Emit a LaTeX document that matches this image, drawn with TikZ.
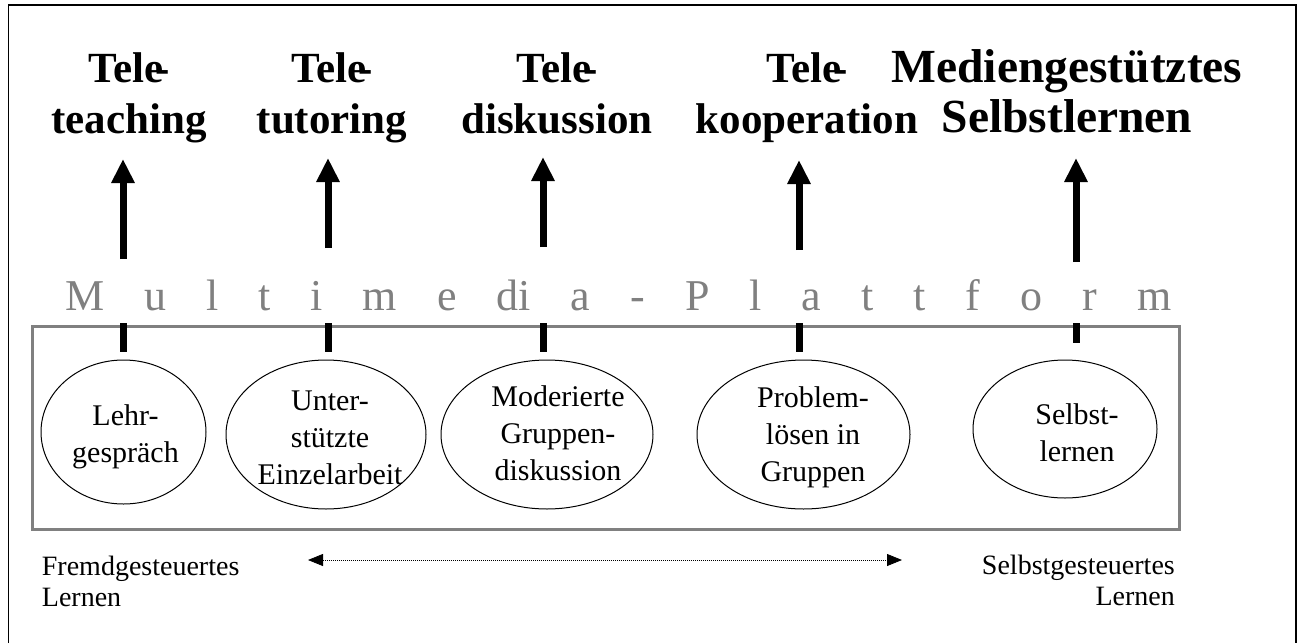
\documentclass[tikz,border=0pt]{standalone}
\usepackage{fontspec}
\setmainfont{Liberation Serif}
\usetikzlibrary{arrows.meta,shapes.geometric}
\definecolor{platformgray}{RGB}{128,128,128}
\newcommand{\tele}{Tele\kern-8pt-}
\begin{document}
\begin{tikzpicture}[x=1pt,y=-1pt,
  frame/.style={draw=black,line width=1.8pt},
  platformbox/.style={draw=platformgray,line width=3pt,inner sep=0pt,anchor=north west},
  headline/.style={align=center,inner sep=0pt,font=\bfseries\fontsize{43}{51}\selectfont,
    execute at begin node=\strut,execute at end node=\strut},
  method/.style={draw,ellipse,line width=1pt,inner sep=0pt},
  methodtext/.style={align=center,inner sep=0pt,anchor=north,font=\fontsize{30}{37}\selectfont,
    execute at begin node=\strut,execute at end node=\strut},
  poletext/.style={inner sep=0pt,font=\fontsize{28}{31}\selectfont,
    execute at begin node=\strut,execute at end node=\strut},
  uparrow/.style={line width=7pt,-{Triangle[length=24pt,width=22pt]}},
  stub/.style={line width=7pt},
  spanarrow/.style={line width=0.8pt,dash pattern=on 0.8pt off 1.2pt,
    {Triangle[length=15pt,width=12pt]}-{Triangle[length=15pt,width=12pt]}}
]
\useasboundingbox (0,0) rectangle (1299,643);
\fill[white] (0,0) rectangle (1299,643);

% outer frame (open at the bottom edge of the page)
\draw[frame] (8.5,643) -- (8.5,5) -- (1295.7,5) -- (1295.7,643);

% headings
\node[headline] (h1) at (129,100.3)  {\tele\\teaching};
\node[headline] (h2) at (332,100.3)  {\tele\\tutoring};
\node[headline] (h3) at (557,100.3)  {\tele\\diskussion};
\node[headline] (h4) at (807,100.3)  {\tele\\kooperation};
\node[headline,font=\bfseries\fontsize{47.5}{50}\selectfont] (h5) at (1067,99) {Mediengestütztes\\Selbstlernen};

% platform frame and its title
\node[platformbox,minimum width=1147.3pt,minimum height=203pt] (pf) at (30.7,325) {};
\node[anchor=base west,inner sep=0pt,text=platformgray,font=\fontsize{44}{44}\selectfont]
  (mmp) at (65,310.7) {\spaceskip=40pt\relax M u l t i m e di a - P l a t t f o r m};

% learning scenarios
\node[method,minimum width=165pt,minimum height=144pt] (e1) at (123.5,432) {};
\node[method,minimum width=200pt,minimum height=149pt] (e2) at (326,434.5) {};
\node[method,minimum width=212pt,minimum height=149pt] (e3) at (547,434.5) {};
\node[method,minimum width=213pt,minimum height=149pt] (e4) at (803.5,434.5) {};
\node[method,minimum width=184pt,minimum height=138pt] (e5) at (1065,429) {};

\node[methodtext] (t1) at (125.5,404) {Lehr-\\gespräch};
\node[methodtext] (t2) at (330,391)   {Unter-\\stützte\\Einzelarbeit};
\node[methodtext] (t3) at (558,385)   {Moderierte\\Gruppen-\\diskussion};
\node[methodtext] (t4) at (813,386)   {Problem-\\lösen in\\Gruppen};
\node[methodtext] (t5) at (1077,403)  {Selbst-\\lernen};

% arrows up to the headings, and the stubs below the platform title
\foreach \i/\x/\foot/\tip/\stubend in
  {1/123/259/159/352, 2/328/248/158/352, 3/543/247/157/352,
   4/799/250/160/352, 5/1076/262/158/343}{
  \coordinate (foot\i) at (\x,\foot);
  \coordinate (tip\i) at (\x,\tip);
  \coordinate (stubtop\i) at (\x,323);
  \coordinate (stubend\i) at (\x,\stubend);
  \draw[uparrow] (foot\i) -- (tip\i);
  \draw[stub] (stubtop\i) -- (stubend\i);
}

% continuum from guided to self-directed learning
\node[poletext,align=left,anchor=north west] (guided) at (41.7,555.5) {Fremdgesteuertes\\Lernen};
\node[poletext,align=right,anchor=north east] (selfdir) at (1175,554.5) {Selbstgesteuertes\\Lernen};
\coordinate (spanleft) at (308,560);
\coordinate (spanright) at (902,560);
\draw[spanarrow] (spanleft) -- (spanright);
\end{tikzpicture}
\end{document}
